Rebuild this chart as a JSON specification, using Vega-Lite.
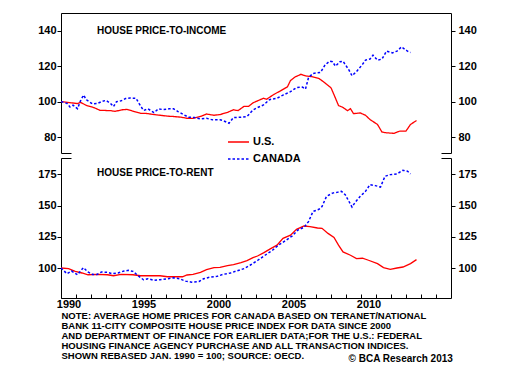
{
  "$schema": "https://vega.github.io/schema/vega-lite/v6.json",
  "padding": {"left": 37, "top": 12, "right": 5, "bottom": 0},
  "config": {
    "font": "Liberation Sans",
    "axis": {"labelFont": "Liberation Sans", "labelFontSize": 11, "labelFontWeight": "bold", "labelColor": "#000", "tickColor": "#000", "domainColor": "#000", "grid": false},
    "title": {"font": "Liberation Sans", "fontWeight": "bold", "color": "#000"}
  },
  "title": {"text": "© BCA Research 2013", "orient": "bottom", "anchor": "end", "fontSize": 10, "dx": -24, "offset": -6},
  "spacing": 3,
  "datasets": {
    "income": [
      {"country": "U.S.", "year": 1990.0, "value": 100},
      {"country": "U.S.", "year": 1990.6, "value": 99.4},
      {"country": "U.S.", "year": 1991.1, "value": 98.9},
      {"country": "U.S.", "year": 1991.3, "value": 99.6},
      {"country": "U.S.", "year": 1991.7, "value": 97.8},
      {"country": "U.S.", "year": 1992.2, "value": 96.6},
      {"country": "U.S.", "year": 1992.6, "value": 95.1},
      {"country": "U.S.", "year": 1993.3, "value": 94.9},
      {"country": "U.S.", "year": 1993.6, "value": 94.5},
      {"country": "U.S.", "year": 1994.1, "value": 95.4},
      {"country": "U.S.", "year": 1994.4, "value": 95.6},
      {"country": "U.S.", "year": 1994.8, "value": 94.6},
      {"country": "U.S.", "year": 1995.3, "value": 93.4},
      {"country": "U.S.", "year": 1995.7, "value": 93.3},
      {"country": "U.S.", "year": 1996.2, "value": 92.7},
      {"country": "U.S.", "year": 1996.6, "value": 92.3},
      {"country": "U.S.", "year": 1997.1, "value": 91.8},
      {"country": "U.S.", "year": 1997.5, "value": 91.6},
      {"country": "U.S.", "year": 1998.0, "value": 91.2},
      {"country": "U.S.", "year": 1998.4, "value": 90.6},
      {"country": "U.S.", "year": 1998.8, "value": 90.5},
      {"country": "U.S.", "year": 1999.3, "value": 91.6},
      {"country": "U.S.", "year": 1999.7, "value": 93.0},
      {"country": "U.S.", "year": 2000.2, "value": 92.3},
      {"country": "U.S.", "year": 2000.6, "value": 92.7},
      {"country": "U.S.", "year": 2001.1, "value": 93.9},
      {"country": "U.S.", "year": 2001.5, "value": 95.4},
      {"country": "U.S.", "year": 2001.8, "value": 94.9},
      {"country": "U.S.", "year": 2002.2, "value": 97.3},
      {"country": "U.S.", "year": 2002.5, "value": 97.3},
      {"country": "U.S.", "year": 2002.8, "value": 99.3},
      {"country": "U.S.", "year": 2003.1, "value": 100.4},
      {"country": "U.S.", "year": 2003.5, "value": 101.9},
      {"country": "U.S.", "year": 2003.7, "value": 101.3},
      {"country": "U.S.", "year": 2004.2, "value": 104.1},
      {"country": "U.S.", "year": 2004.6, "value": 105.9},
      {"country": "U.S.", "year": 2005.1, "value": 108.4},
      {"country": "U.S.", "year": 2005.3, "value": 111.9},
      {"country": "U.S.", "year": 2005.6, "value": 113.9},
      {"country": "U.S.", "year": 2006.0, "value": 115.4},
      {"country": "U.S.", "year": 2006.3, "value": 114.5},
      {"country": "U.S.", "year": 2006.7, "value": 114.1},
      {"country": "U.S.", "year": 2007.2, "value": 113.0},
      {"country": "U.S.", "year": 2007.5, "value": 111.2},
      {"country": "U.S.", "year": 2008.0, "value": 107.8},
      {"country": "U.S.", "year": 2008.3, "value": 101.9},
      {"country": "U.S.", "year": 2008.5, "value": 97.8},
      {"country": "U.S.", "year": 2008.8, "value": 96.7},
      {"country": "U.S.", "year": 2009.1, "value": 94.9},
      {"country": "U.S.", "year": 2009.3, "value": 96.0},
      {"country": "U.S.", "year": 2009.5, "value": 93.2},
      {"country": "U.S.", "year": 2009.95, "value": 93.6},
      {"country": "U.S.", "year": 2010.3, "value": 92.3},
      {"country": "U.S.", "year": 2010.6, "value": 89.9},
      {"country": "U.S.", "year": 2011.1, "value": 87.1},
      {"country": "U.S.", "year": 2011.4, "value": 82.8},
      {"country": "U.S.", "year": 2011.7, "value": 82.4},
      {"country": "U.S.", "year": 2012.2, "value": 82.1},
      {"country": "U.S.", "year": 2012.6, "value": 83.4},
      {"country": "U.S.", "year": 2013.0, "value": 83.4},
      {"country": "U.S.", "year": 2013.3, "value": 87.1},
      {"country": "U.S.", "year": 2013.7, "value": 89.3},
      {"country": "CANADA", "year": 1990.0, "value": 100},
      {"country": "CANADA", "year": 1990.4, "value": 99},
      {"country": "CANADA", "year": 1990.6, "value": 97},
      {"country": "CANADA", "year": 1990.8, "value": 98},
      {"country": "CANADA", "year": 1991.1, "value": 96},
      {"country": "CANADA", "year": 1991.3, "value": 100.4},
      {"country": "CANADA", "year": 1991.5, "value": 103.7},
      {"country": "CANADA", "year": 1991.7, "value": 101},
      {"country": "CANADA", "year": 1992.1, "value": 98.7},
      {"country": "CANADA", "year": 1992.4, "value": 98.9},
      {"country": "CANADA", "year": 1992.7, "value": 100},
      {"country": "CANADA", "year": 1993.0, "value": 100.7},
      {"country": "CANADA", "year": 1993.3, "value": 99},
      {"country": "CANADA", "year": 1993.5, "value": 97.2},
      {"country": "CANADA", "year": 1993.7, "value": 100},
      {"country": "CANADA", "year": 1994.0, "value": 100.4},
      {"country": "CANADA", "year": 1994.3, "value": 101.7},
      {"country": "CANADA", "year": 1994.6, "value": 102},
      {"country": "CANADA", "year": 1995.0, "value": 101.9},
      {"country": "CANADA", "year": 1995.2, "value": 99},
      {"country": "CANADA", "year": 1995.5, "value": 95},
      {"country": "CANADA", "year": 1995.8, "value": 95.9},
      {"country": "CANADA", "year": 1996.2, "value": 93.8},
      {"country": "CANADA", "year": 1996.5, "value": 95.9},
      {"country": "CANADA", "year": 1996.8, "value": 95.5},
      {"country": "CANADA", "year": 1997.2, "value": 95.9},
      {"country": "CANADA", "year": 1997.5, "value": 95.9},
      {"country": "CANADA", "year": 1997.8, "value": 94.4},
      {"country": "CANADA", "year": 1998.2, "value": 92.5},
      {"country": "CANADA", "year": 1998.5, "value": 91.2},
      {"country": "CANADA", "year": 1998.9, "value": 91},
      {"country": "CANADA", "year": 1999.3, "value": 90.3},
      {"country": "CANADA", "year": 1999.7, "value": 90.6},
      {"country": "CANADA", "year": 2000.1, "value": 89.7},
      {"country": "CANADA", "year": 2000.6, "value": 89.7},
      {"country": "CANADA", "year": 2000.8, "value": 89.3},
      {"country": "CANADA", "year": 2001.2, "value": 87.8},
      {"country": "CANADA", "year": 2001.5, "value": 91},
      {"country": "CANADA", "year": 2002.0, "value": 91.2},
      {"country": "CANADA", "year": 2002.4, "value": 91.6},
      {"country": "CANADA", "year": 2002.8, "value": 95.3},
      {"country": "CANADA", "year": 2003.1, "value": 96.6},
      {"country": "CANADA", "year": 2003.5, "value": 98.1},
      {"country": "CANADA", "year": 2003.9, "value": 101.1},
      {"country": "CANADA", "year": 2004.4, "value": 101.9},
      {"country": "CANADA", "year": 2004.8, "value": 103.7},
      {"country": "CANADA", "year": 2005.3, "value": 105.6},
      {"country": "CANADA", "year": 2005.7, "value": 107.9},
      {"country": "CANADA", "year": 2006.1, "value": 108.2},
      {"country": "CANADA", "year": 2006.3, "value": 107.1},
      {"country": "CANADA", "year": 2006.5, "value": 113.5},
      {"country": "CANADA", "year": 2006.8, "value": 115.9},
      {"country": "CANADA", "year": 2007.3, "value": 116.5},
      {"country": "CANADA", "year": 2007.6, "value": 120.6},
      {"country": "CANADA", "year": 2007.9, "value": 122.8},
      {"country": "CANADA", "year": 2008.1, "value": 122.5},
      {"country": "CANADA", "year": 2008.3, "value": 120},
      {"country": "CANADA", "year": 2008.6, "value": 122.5},
      {"country": "CANADA", "year": 2008.8, "value": 122.8},
      {"country": "CANADA", "year": 2009.2, "value": 117.8},
      {"country": "CANADA", "year": 2009.4, "value": 114.6},
      {"country": "CANADA", "year": 2009.7, "value": 116.9},
      {"country": "CANADA", "year": 2010.1, "value": 121},
      {"country": "CANADA", "year": 2010.3, "value": 123.4},
      {"country": "CANADA", "year": 2010.6, "value": 124},
      {"country": "CANADA", "year": 2010.8, "value": 126.2},
      {"country": "CANADA", "year": 2011.1, "value": 123.4},
      {"country": "CANADA", "year": 2011.4, "value": 124},
      {"country": "CANADA", "year": 2011.7, "value": 128.5},
      {"country": "CANADA", "year": 2012.1, "value": 127.5},
      {"country": "CANADA", "year": 2012.4, "value": 128.5},
      {"country": "CANADA", "year": 2012.7, "value": 130.9},
      {"country": "CANADA", "year": 2013.1, "value": 128.5},
      {"country": "CANADA", "year": 2013.3, "value": 127.7}
    ],
    "rent": [
      {"country": "U.S.", "year": 1990.0, "value": 100},
      {"country": "U.S.", "year": 1990.5, "value": 99.5},
      {"country": "U.S.", "year": 1990.95, "value": 97.3},
      {"country": "U.S.", "year": 1991.4, "value": 96},
      {"country": "U.S.", "year": 1991.8, "value": 94.6},
      {"country": "U.S.", "year": 1992.4, "value": 94.9},
      {"country": "U.S.", "year": 1993.1, "value": 94.6},
      {"country": "U.S.", "year": 1993.5, "value": 93.8},
      {"country": "U.S.", "year": 1994.0, "value": 94.9},
      {"country": "U.S.", "year": 1994.8, "value": 94.6},
      {"country": "U.S.", "year": 1995.3, "value": 93.8},
      {"country": "U.S.", "year": 1996.6, "value": 93.8},
      {"country": "U.S.", "year": 1997.1, "value": 93},
      {"country": "U.S.", "year": 1998.1, "value": 93},
      {"country": "U.S.", "year": 1998.4, "value": 94.4},
      {"country": "U.S.", "year": 1998.8, "value": 94.9},
      {"country": "U.S.", "year": 1999.3, "value": 96.5},
      {"country": "U.S.", "year": 1999.7, "value": 98.7},
      {"country": "U.S.", "year": 2000.2, "value": 100.3},
      {"country": "U.S.", "year": 2000.6, "value": 100.5},
      {"country": "U.S.", "year": 2001.1, "value": 101.9},
      {"country": "U.S.", "year": 2001.5, "value": 102.7},
      {"country": "U.S.", "year": 2002.0, "value": 104.3},
      {"country": "U.S.", "year": 2002.4, "value": 105.9},
      {"country": "U.S.", "year": 2002.8, "value": 108.3},
      {"country": "U.S.", "year": 2003.1, "value": 109.6},
      {"country": "U.S.", "year": 2003.5, "value": 112.1},
      {"country": "U.S.", "year": 2003.95, "value": 115.3},
      {"country": "U.S.", "year": 2004.4, "value": 118.3},
      {"country": "U.S.", "year": 2004.8, "value": 123.7},
      {"country": "U.S.", "year": 2005.3, "value": 126.3},
      {"country": "U.S.", "year": 2005.7, "value": 130.9},
      {"country": "U.S.", "year": 2006.2, "value": 133.6},
      {"country": "U.S.", "year": 2006.6, "value": 133.1},
      {"country": "U.S.", "year": 2007.1, "value": 132},
      {"country": "U.S.", "year": 2007.4, "value": 131.7},
      {"country": "U.S.", "year": 2007.8, "value": 127.7},
      {"country": "U.S.", "year": 2008.2, "value": 124.5},
      {"country": "U.S.", "year": 2008.5, "value": 118.3},
      {"country": "U.S.", "year": 2008.8, "value": 112.9},
      {"country": "U.S.", "year": 2009.3, "value": 110.2},
      {"country": "U.S.", "year": 2009.7, "value": 107.5},
      {"country": "U.S.", "year": 2010.1, "value": 107.8},
      {"country": "U.S.", "year": 2010.5, "value": 106.2},
      {"country": "U.S.", "year": 2011.1, "value": 103.5},
      {"country": "U.S.", "year": 2011.5, "value": 100.3},
      {"country": "U.S.", "year": 2011.95, "value": 98.9},
      {"country": "U.S.", "year": 2012.4, "value": 100},
      {"country": "U.S.", "year": 2012.8, "value": 100.8},
      {"country": "U.S.", "year": 2013.3, "value": 103.5},
      {"country": "U.S.", "year": 2013.7, "value": 106.7},
      {"country": "CANADA", "year": 1990.0, "value": 100},
      {"country": "CANADA", "year": 1990.4, "value": 95.4},
      {"country": "CANADA", "year": 1990.7, "value": 97.6},
      {"country": "CANADA", "year": 1991.1, "value": 94.6},
      {"country": "CANADA", "year": 1991.3, "value": 97.6},
      {"country": "CANADA", "year": 1991.5, "value": 100.3},
      {"country": "CANADA", "year": 1991.8, "value": 96.8},
      {"country": "CANADA", "year": 1992.1, "value": 94.9},
      {"country": "CANADA", "year": 1992.4, "value": 94.9},
      {"country": "CANADA", "year": 1992.7, "value": 96.8},
      {"country": "CANADA", "year": 1993.1, "value": 96.5},
      {"country": "CANADA", "year": 1993.4, "value": 95.4},
      {"country": "CANADA", "year": 1993.8, "value": 96},
      {"country": "CANADA", "year": 1994.2, "value": 97.6},
      {"country": "CANADA", "year": 1994.5, "value": 98.1},
      {"country": "CANADA", "year": 1994.8, "value": 97.3},
      {"country": "CANADA", "year": 1995.2, "value": 93.3},
      {"country": "CANADA", "year": 1995.5, "value": 90.6},
      {"country": "CANADA", "year": 1995.8, "value": 91.4},
      {"country": "CANADA", "year": 1996.2, "value": 90.1},
      {"country": "CANADA", "year": 1996.6, "value": 90.6},
      {"country": "CANADA", "year": 1997.1, "value": 91.4},
      {"country": "CANADA", "year": 1997.5, "value": 92.2},
      {"country": "CANADA", "year": 1997.9, "value": 91.4},
      {"country": "CANADA", "year": 1998.3, "value": 89.5},
      {"country": "CANADA", "year": 1998.7, "value": 88.7},
      {"country": "CANADA", "year": 1999.2, "value": 89.2},
      {"country": "CANADA", "year": 1999.5, "value": 91.4},
      {"country": "CANADA", "year": 1999.95, "value": 92.7},
      {"country": "CANADA", "year": 2000.4, "value": 93.3},
      {"country": "CANADA", "year": 2000.8, "value": 94.9},
      {"country": "CANADA", "year": 2001.3, "value": 96},
      {"country": "CANADA", "year": 2001.7, "value": 97.6},
      {"country": "CANADA", "year": 2002.2, "value": 99.5},
      {"country": "CANADA", "year": 2002.6, "value": 102.2},
      {"country": "CANADA", "year": 2003.1, "value": 106},
      {"country": "CANADA", "year": 2003.6, "value": 110.2},
      {"country": "CANADA", "year": 2004.1, "value": 114.2},
      {"country": "CANADA", "year": 2004.5, "value": 118.3},
      {"country": "CANADA", "year": 2004.95, "value": 121.8},
      {"country": "CANADA", "year": 2005.4, "value": 125.5},
      {"country": "CANADA", "year": 2005.8, "value": 130.4},
      {"country": "CANADA", "year": 2006.2, "value": 132.5},
      {"country": "CANADA", "year": 2006.5, "value": 137.1},
      {"country": "CANADA", "year": 2006.8, "value": 145.2},
      {"country": "CANADA", "year": 2007.2, "value": 147},
      {"country": "CANADA", "year": 2007.4, "value": 149.2},
      {"country": "CANADA", "year": 2007.7, "value": 157.3},
      {"country": "CANADA", "year": 2008.1, "value": 159.9},
      {"country": "CANADA", "year": 2008.4, "value": 160.5},
      {"country": "CANADA", "year": 2008.7, "value": 161.3},
      {"country": "CANADA", "year": 2008.95, "value": 158.6},
      {"country": "CANADA", "year": 2009.2, "value": 153.2},
      {"country": "CANADA", "year": 2009.4, "value": 148.7},
      {"country": "CANADA", "year": 2009.6, "value": 152.4},
      {"country": "CANADA", "year": 2009.95, "value": 157.3},
      {"country": "CANADA", "year": 2010.3, "value": 161.3},
      {"country": "CANADA", "year": 2010.6, "value": 166.7},
      {"country": "CANADA", "year": 2010.95, "value": 165.9},
      {"country": "CANADA", "year": 2011.3, "value": 164.8},
      {"country": "CANADA", "year": 2011.6, "value": 173.4},
      {"country": "CANADA", "year": 2011.95, "value": 174.7},
      {"country": "CANADA", "year": 2012.4, "value": 175.3},
      {"country": "CANADA", "year": 2012.8, "value": 178.2},
      {"country": "CANADA", "year": 2013.1, "value": 177.4},
      {"country": "CANADA", "year": 2013.3, "value": 175.3}
    ]
  },
  "vconcat": [
    {
      "width": 390,
      "height": 140,
      "data": {"name": "income"},
      "view": {"stroke": "#000", "strokeWidth": 1, "strokeDash": [540, 370, 150]},
      "title": {"text": "HOUSE PRICE-TO-INCOME", "anchor": "start", "frame": "group", "dx": 36, "offset": -23, "fontSize": 10},
      "encoding": {
        "x": {"field": "year", "type": "quantitative", "scale": {"domain": [1990, 2016], "nice": false, "zero": false}, "axis": null},
        "color": {"field": "country", "type": "nominal", "scale": {"domain": ["U.S.", "CANADA"], "range": ["#ff0000", "#0000ff"]},
          "legend": {"orient": "none", "legendX": 166, "legendY": 117.5, "title": null, "symbolType": "stroke", "symbolSize": 441, "symbolStrokeWidth": 1.5, "labelFont": "Liberation Sans", "labelFontSize": 11, "labelFontWeight": "bold", "labelColor": "#000", "labelOffset": 3, "rowPadding": -6, "padding": 0}},
        "strokeDash": {"field": "country", "type": "nominal", "scale": {"domain": ["U.S.", "CANADA"], "range": [[1, 0], [2.5, 2]]},
          "legend": {"orient": "none", "legendX": 166, "legendY": 117.5, "title": null, "symbolType": "stroke", "symbolSize": 441, "symbolStrokeWidth": 1.5, "labelFont": "Liberation Sans", "labelFontSize": 11, "labelFontWeight": "bold", "labelColor": "#000", "labelOffset": 3, "rowPadding": -6, "padding": 0}}
      },
      "layer": [
        {
          "transform": [{"filter": "datum.country === 'U.S.'"}],
          "mark": {"type": "line", "strokeWidth": 1.3},
          "encoding": {
            "y": {"field": "value", "type": "quantitative", "scale": {"domain": [71, 150], "nice": false, "zero": false},
              "axis": {"orient": "left", "values": [80, 100, 120, 140], "tickSize": 4, "domain": false, "labelPadding": 1, "title": null}}
          }
        },
        {
          "transform": [{"filter": "datum.country === 'CANADA'"}],
          "mark": {"type": "line", "strokeWidth": 1.5},
          "encoding": {
            "y": {"field": "value", "type": "quantitative", "scale": {"domain": [71, 150], "nice": false, "zero": false},
              "axis": {"orient": "right", "values": [80, 100, 120, 140], "tickSize": 4, "domain": false, "labelPadding": 3, "title": null}}
          }
        }
      ],
      "resolve": {"scale": {"y": "independent"}, "axis": {"y": "independent"}}
    },
    {
      "width": 390,
      "height": 140,
      "data": {"name": "rent"},
      "view": {"stroke": "#000", "strokeWidth": 1, "strokeDash": [10, 370, 680]},
      "title": {"text": "HOUSE PRICE-TO-RENT", "anchor": "start", "frame": "group", "dx": 36, "offset": -20, "fontSize": 10},
      "encoding": {
        "x": {"field": "year", "type": "quantitative", "scale": {"domain": [1990, 2016], "nice": false, "zero": false},
          "axis": {"orient": "bottom", "values": [1990, 1991, 1992, 1993, 1994, 1995, 1996, 1997, 1998, 1999, 2000, 2001, 2002, 2003, 2004, 2005, 2006, 2007, 2008, 2009, 2010, 2011, 2012, 2013, 2014, 2015],
            "tickSize": -4, "tickWidth": 1, "domain": false, "labelFlush": false, "labelOverlap": false, "labelOffset": 7.5, "labelPadding": 4,
            "labelExpr": "datum.value % 5 === 0 && datum.value <= 2010 ? datum.value : ''",
            "title": ["NOTE: AVERAGE HOME PRICES FOR CANADA BASED ON TERANET/NATIONAL", "BANK 11-CITY COMPOSITE HOUSE PRICE INDEX FOR DATA SINCE 2000", "AND DEPARTMENT OF FINANCE FOR EARLIER DATA;FOR THE U.S.: FEDERAL", "HOUSING FINANCE AGENCY PURCHASE AND ALL TRANSACTION INDICES.", "SHOWN REBASED JAN. 1990 = 100;  SOURCE: OECD."],
            "titleFont": "Liberation Sans", "titleFontSize": 9.5, "titleFontWeight": "bold", "titleColor": "#000", "titleAnchor": "start", "titleAlign": "left", "titleLineHeight": 10, "titlePadding": 1}}
      },
      "layer": [
        {
          "transform": [{"filter": "datum.country === 'U.S.'"}],
          "mark": {"type": "line", "strokeWidth": 1.3, "color": "#ff0000"},
          "encoding": {
            "y": {"field": "value", "type": "quantitative", "scale": {"domain": [76, 188], "nice": false, "zero": false},
              "axis": {"orient": "left", "values": [100, 125, 150, 175], "tickSize": 4, "domain": false, "labelPadding": 1, "title": null}}
          }
        },
        {
          "transform": [{"filter": "datum.country === 'CANADA'"}],
          "mark": {"type": "line", "strokeWidth": 1.5, "color": "#0000ff", "strokeDash": [2.5, 2]},
          "encoding": {
            "y": {"field": "value", "type": "quantitative", "scale": {"domain": [76, 188], "nice": false, "zero": false},
              "axis": {"orient": "right", "values": [100, 125, 150, 175], "tickSize": 4, "domain": false, "labelPadding": 3, "title": null}}
          }
        }
      ],
      "resolve": {"scale": {"y": "independent"}, "axis": {"y": "independent"}}
    }
  ]
}
